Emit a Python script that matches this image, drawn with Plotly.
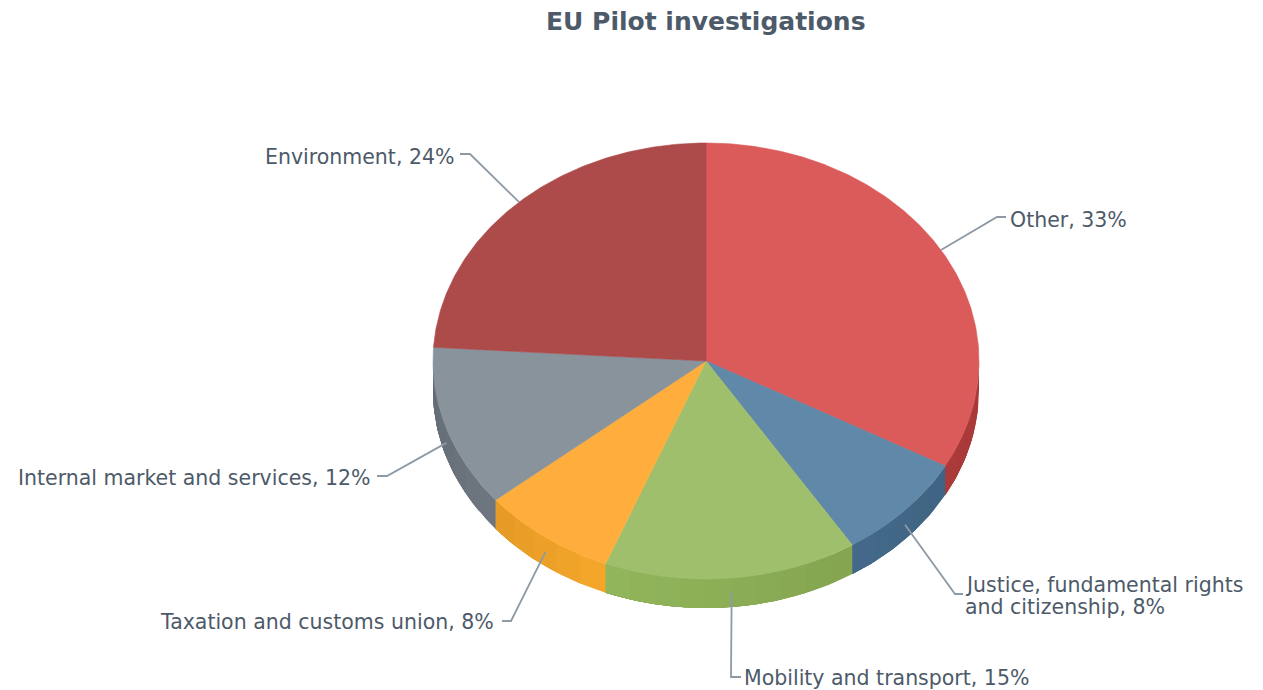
import math
import plotly.graph_objects as go

categories = ["Other", "Justice, fundamental rights<br>and citizenship", "Mobility and transport",
              "Taxation and customs union", "Internal market and services", "Environment"]
values = [33, 8, 15, 8, 12, 24]

top_colors = ["#DB5A5A", "#6088A8", "#9FBF6C", "#FFAE3D", "#89939C", "#AD4A4A"]
side_left = ["#AB3A3A", "#44698A", "#92B65C", "#E39A25", "#636B75", "#8A3A3A"]
side_right = ["#A83838", "#3F6482", "#84A44F", "#F6A72B", "#6E7680", "#8A3A3A"]

CX, CY, RX, RY, DEPTH = 706, 361, 273, 218, 29
TEXT = "#4D5A69"
LINE = "#8D9AA5"
LINE_GAP = 22

# label anchor: x, y, side; elbow: knee x, knee y, end x
label_place = [
    (1008, 220, "left", 997, 217, 1006),
    (963, 596, "left", 955, 594, 963),
    (742, 678, "left", 731, 677, 741),
    (496, 622, "right", 511, 621, 502),
    (373, 478, "right", 387, 476, 377),
    (457, 157, "right", 470, 154, 460),
]


def pt(theta, dy=0.0):
    r = math.radians(theta)
    return CX + RX * math.sin(r), CY - RY * math.cos(r) + dy


def mix(c1, c2, t):
    a = [int(c1[i:i + 2], 16) for i in (1, 3, 5)]
    b = [int(c2[i:i + 2], 16) for i in (1, 3, 5)]
    return "#%02X%02X%02X" % tuple(round(a[i] + (b[i] - a[i]) * t) for i in range(3))


def poly(xs, ys, color, width=0.6):
    return go.Scatter(x=xs, y=ys, mode="lines", fill="toself", fillcolor=color,
                      line=dict(color=color, width=width), hoverinfo="skip", showlegend=False)


total = sum(values)
edges = [0.0]
for v in values:
    edges.append(edges[-1] + 360.0 * v / total)

fig = go.Figure()

# rim of the pie (only the front half, 90..270 degrees, is visible)
for i in range(len(values)):
    a0, a1 = max(edges[i], 90), min(edges[i + 1], 270)
    if a1 <= a0:
        continue
    strips = max(2, int((a1 - a0) / 5))
    for s in range(strips):
        t0 = a0 + (a1 - a0) * s / strips
        # each strip runs on to the end of the slice, so later ones overlap it without seams
        arc = [t0 + (a1 - t0) * k / 24 for k in range(25)]
        upper = [pt(a) for a in arc]
        lower = [pt(a, DEPTH) for a in reversed(arc)]
        xs = [p[0] for p in upper + lower] + [upper[0][0]]
        ys = [p[1] for p in upper + lower] + [upper[0][1]]
        # colours are given left to right on the page, the angle runs right to left
        fig.add_trace(poly(xs, ys, mix(side_right[i], side_left[i], (s + 0.5) / strips), width=0))

# top face
for i in range(len(values)):
    n = max(8, int((edges[i + 1] - edges[i]) * 2))
    arc = [edges[i] + (edges[i + 1] - edges[i]) * k / n for k in range(n + 1)]
    pts = [pt(a) for a in arc]
    xs = [CX] + [p[0] for p in pts] + [CX]
    ys = [CY] + [p[1] for p in pts] + [CY]
    fig.add_trace(poly(xs, ys, top_colors[i]))

# connectors and labels
annotations = []
for i, (name, v) in enumerate(zip(categories, values)):
    mid = (edges[i] + edges[i + 1]) / 2
    sx, sy = pt(mid)
    if 90 < mid < 270:
        sy += DEPTH / 2
    lx, ly, side, kx, ky, ex = label_place[i]
    fig.add_trace(go.Scatter(x=[sx, kx, ex], y=[sy, ky, ky], mode="lines",
                             line=dict(color=LINE, width=1.8), hoverinfo="skip", showlegend=False))
    lines = f"{name}, {v}%".split("<br>")
    for j, line in enumerate(lines):
        annotations.append(dict(x=lx, y=ly + (j - (len(lines) - 1) / 2) * LINE_GAP, xref="x", yref="y",
                                text=line, showarrow=False, xanchor=side, yanchor="middle",
                                font=dict(family="DejaVu Sans", size=20.5, color=TEXT)))

annotations.append(dict(x=706, y=21, xref="x", yref="y", text="<b>EU Pilot investigations</b>", showarrow=False,
                        xanchor="center", yanchor="middle",
                        font=dict(family="DejaVu Sans", size=25, color=TEXT)))

fig.update_layout(
    width=1263, height=690, margin=dict(l=0, r=0, t=0, b=0),
    paper_bgcolor="white", plot_bgcolor="white", showlegend=False,
    xaxis=dict(range=[0, 1263], visible=False, fixedrange=True),
    yaxis=dict(range=[690, 0], visible=False, fixedrange=True),
    annotations=annotations,
)

fig.write_html("out.html", post_script="document.body.style.margin='0';document.body.style.overflow='hidden';",
               config={"displayModeBar": False})
